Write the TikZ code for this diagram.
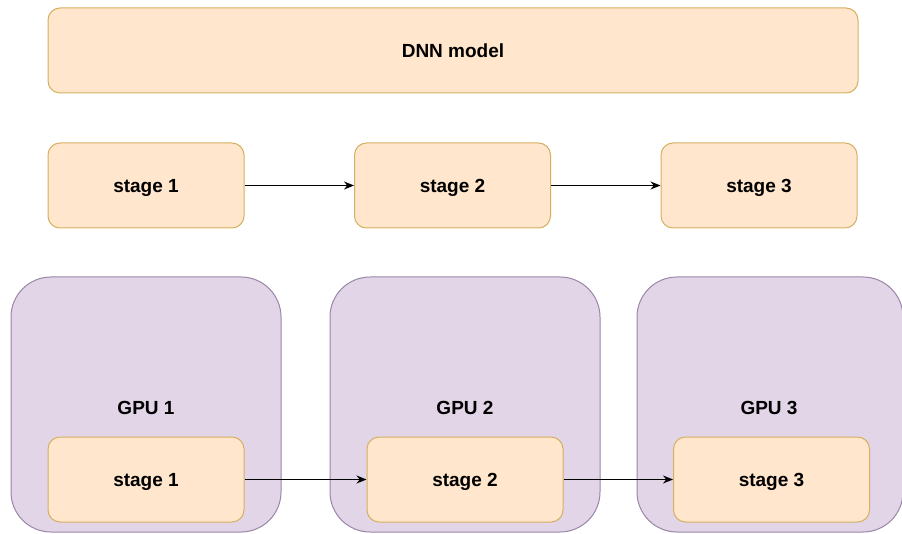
\documentclass[tikz,border=0pt]{standalone}
\usepackage{fontspec}
\setmainfont{Liberation Sans}
\usetikzlibrary{arrows.meta}
\definecolor{ofill}{HTML}{FFE6CC}
\definecolor{odraw}{HTML}{D6B060}
\definecolor{pfill}{HTML}{E1D5E7}
\definecolor{pdraw}{HTML}{9A87A8}
\tikzset{
  obox/.style={draw=odraw, fill=ofill, line width=1pt, rounded corners=12pt, inner sep=0pt,
    text height=13.5pt, text depth=0pt,
    font=\fontsize{19}{21}\selectfont\bfseries},
  gpubox/.style={draw=pdraw, fill=pfill, line width=1pt, rounded corners=40pt, inner sep=0pt},
  gpulabel/.style={font=\fontsize{19}{21}\selectfont\bfseries, inner sep=0pt,
    text height=13.5pt, text depth=0pt},
  conn/.style={-{Stealth[length=10pt,width=8pt]}, line width=1.2pt, black}
}
\begin{document}
\begin{tikzpicture}[x=1pt,y=-1pt]
\useasboundingbox[fill=white] (0,0) rectangle (902,534);
% top model
\node[obox, minimum width=810pt, minimum height=85pt] (dnn) at (453,50.5) {DNN model};
% stages row
\node[obox, minimum width=196pt, minimum height=85pt] (s1) at (146,185.5) {stage 1};
\node[obox, minimum width=196pt, minimum height=85pt] (s2) at (452.5,185.5) {stage 2};
\node[obox, minimum width=196pt, minimum height=85pt] (s3) at (759,185.5) {stage 3};
\draw[conn] (s1) -- (s2);
\draw[conn] (s2) -- (s3);
% GPU boxes
\node[gpubox, minimum width=270pt, minimum height=255pt] (g1) at (146,404.5) {};
\node[gpubox, minimum width=270pt, minimum height=255pt] (g2) at (465,404.5) {};
\node[gpubox, minimum width=266pt, minimum height=255pt] (g3) at (770,404.5) {};
\node[gpulabel] (gl1) at (146,408) {GPU 1};
\node[gpulabel] (gl2) at (465,408) {GPU 2};
\node[gpulabel] (gl3) at (769,408) {GPU 3};
\node[obox, minimum width=196pt, minimum height=85pt] (t1) at (146,479.5) {stage 1};
\node[obox, minimum width=196pt, minimum height=85pt] (t2) at (465,479.5) {stage 2};
\node[obox, minimum width=196pt, minimum height=85pt] (t3) at (771.5,479.5) {stage 3};
\draw[conn] (t1) -- (t2);
\draw[conn] (t2) -- (t3);
\end{tikzpicture}
\end{document}
